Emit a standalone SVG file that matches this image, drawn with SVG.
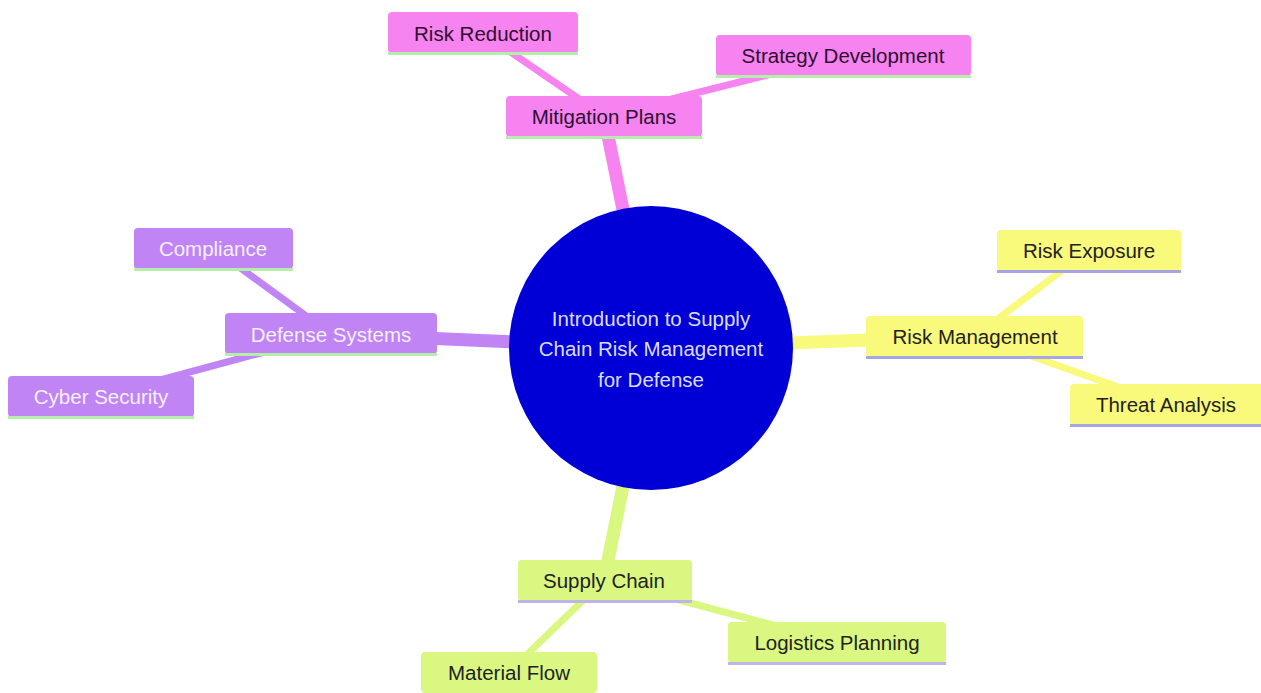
<svg xmlns="http://www.w3.org/2000/svg" width="1261" height="693" viewBox="0 0 1261 693">
<style>
text{font-family:"Liberation Sans",Arial,sans-serif;font-size:20.5px;text-anchor:middle;dominant-baseline:central}
.e1{stroke-width:13;stroke-linecap:butt;fill:none}
.e2{stroke-width:7;stroke-linecap:butt;fill:none}
.pk{fill:#f683f0}.pkS{stroke:#f683f0}
.pu{fill:#c184f5}.puS{stroke:#c184f5}
.ye{fill:#f9f97c}.yeS{stroke:#f9f97c}
.gr{fill:#d9f781}.grS{stroke:#d9f781}
.lpk,.lpu{stroke:#b4eeaa;stroke-width:3}
.lye{stroke:#a6a6e6;stroke-width:3}
.lgr{stroke:#beb4ea;stroke-width:3}
.tpk{fill:#2e0f2e}.tpu{fill:#f4f0ff}.tye{fill:#222}.tgr{fill:#222}
</style>
<rect width="1261" height="693" fill="#ffffff"/>
<g id="connectors">
<line class="e1 pkS" x1="651" y1="348" x2="604" y2="116"/>
<line class="e1 puS" x1="651" y1="348" x2="331" y2="334"/>
<line class="e1 yeS" x1="651" y1="348" x2="975" y2="336"/>
<line class="e1 grS" x1="651" y1="348" x2="604" y2="580"/>
<line class="e2 pkS" x1="604" y1="116" x2="483" y2="33"/>
<line class="e2 pkS" x1="604" y1="116" x2="843" y2="56"/>
<line class="e2 puS" x1="331" y1="334" x2="213" y2="248"/>
<line class="e2 puS" x1="331" y1="334" x2="101" y2="396"/>
<line class="e2 yeS" x1="975" y1="336" x2="1089" y2="250"/>
<line class="e2 yeS" x1="975" y1="336" x2="1166" y2="404"/>
<line class="e2 grS" x1="604" y1="580" x2="837" y2="642"/>
<line class="e2 grS" x1="604" y1="580" x2="509" y2="672"/>
</g>
<g id="root">
<circle cx="651" cy="348" r="142" fill="#0000d6"/>
<text x="651" y="318" fill="#dcdcff">Introduction to Supply</text>
<text x="651" y="348" fill="#dcdcff">Chain Risk Management</text>
<text x="651" y="379" fill="#dcdcff">for Defense</text>
</g>
<g id="mitigation-plans">
<rect class="pk" x="506" y="96" width="196" height="41" rx="4"/>
<line class="lpk" x1="506" y1="137.5" x2="702" y2="137.5"/>
<text class="tpk" x="604" y="116">Mitigation Plans</text>
</g>
<g id="risk-reduction">
<rect class="pk" x="388" y="12" width="190" height="41" rx="4"/>
<line class="lpk" x1="388" y1="53.5" x2="578" y2="53.5"/>
<text class="tpk" x="483" y="33">Risk Reduction</text>
</g>
<g id="strategy-development">
<rect class="pk" x="716" y="35" width="255" height="41" rx="4"/>
<line class="lpk" x1="716" y1="76.5" x2="971" y2="76.5"/>
<text class="tpk" x="843" y="55">Strategy Development</text>
</g>
<g id="defense-systems">
<rect class="pu" x="225" y="313" width="212" height="41" rx="4"/>
<line class="lpu" x1="225" y1="354.5" x2="437" y2="354.5"/>
<text class="tpu" x="331" y="334">Defense Systems</text>
</g>
<g id="compliance">
<rect class="pu" x="134" y="228" width="159" height="41" rx="4"/>
<line class="lpu" x1="134" y1="269.5" x2="293" y2="269.5"/>
<text class="tpu" x="213" y="248">Compliance</text>
</g>
<g id="cyber-security">
<rect class="pu" x="8" y="376" width="186" height="41" rx="4"/>
<line class="lpu" x1="8" y1="417.5" x2="194" y2="417.5"/>
<text class="tpu" x="101" y="396">Cyber Security</text>
</g>
<g id="risk-management">
<rect class="ye" x="866" y="316" width="217" height="41" rx="4"/>
<line class="lye" x1="866" y1="357.5" x2="1083" y2="357.5"/>
<text class="tye" x="975" y="336">Risk Management</text>
</g>
<g id="risk-exposure">
<rect class="ye" x="997" y="230" width="184" height="41" rx="4"/>
<line class="lye" x1="997" y1="271.5" x2="1181" y2="271.5"/>
<text class="tye" x="1089" y="250">Risk Exposure</text>
</g>
<g id="threat-analysis">
<rect class="ye" x="1070" y="384" width="195" height="41" rx="4"/>
<line class="lye" x1="1070" y1="425.5" x2="1261" y2="425.5"/>
<text class="tye" x="1166" y="404">Threat Analysis</text>
</g>
<g id="supply-chain">
<rect class="gr" x="518" y="560" width="174" height="41" rx="4"/>
<line class="lgr" x1="518" y1="601.5" x2="692" y2="601.5"/>
<text class="tgr" x="604" y="580">Supply Chain</text>
</g>
<g id="logistics-planning">
<rect class="gr" x="728" y="622" width="218" height="41" rx="4"/>
<line class="lgr" x1="728" y1="663.5" x2="946" y2="663.5"/>
<text class="tgr" x="837" y="642">Logistics Planning</text>
</g>
<g id="material-flow">
<rect class="gr" x="421" y="652" width="176" height="41" rx="4"/>
<text class="tgr" x="509" y="672">Material Flow</text>
</g>
</svg>
